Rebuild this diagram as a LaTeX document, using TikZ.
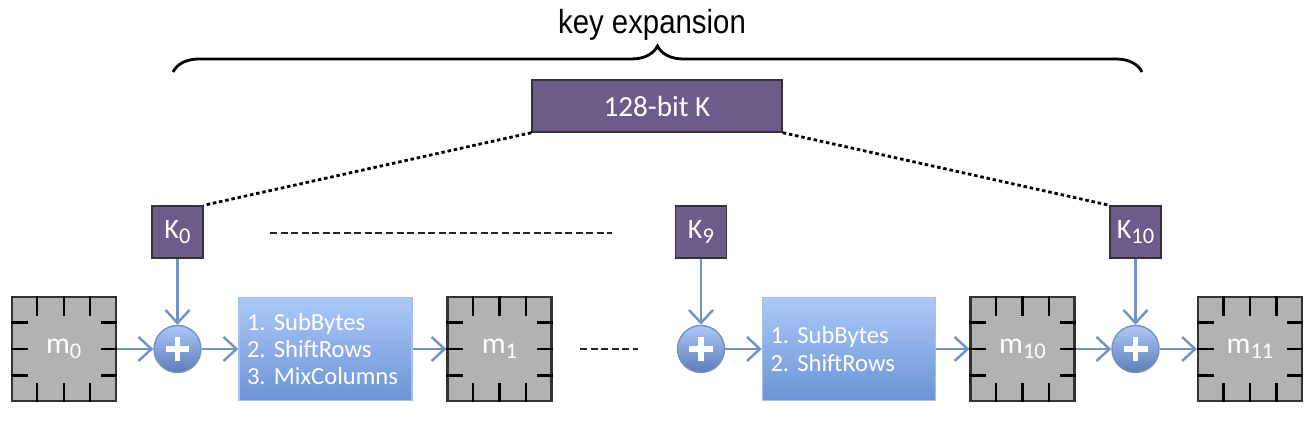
\documentclass[tikz,border=0pt]{standalone}
\usepackage{fontspec}
\setmainfont{Carlito}
\newfontfamily\headfont{Liberation Sans}
\usetikzlibrary{arrows.meta, positioning, calc, decorations.pathreplacing}

\definecolor{keypurple}{RGB}{108,92,140}
\definecolor{flowblue}{RGB}{114,147,196}
\definecolor{boxtop}{RGB}{172,200,248}
\definecolor{boxbot}{RGB}{108,148,214}
\definecolor{stategray}{RGB}{178,178,178}

\newcommand{\idx}[1]{\raisebox{-1.5pt}{\fontsize{6.4}{7}\selectfont #1}}
\newcommand{\steptext}{\fontsize{7}{7.8}\selectfont\frenchspacing\hyphenpenalty=10000\relax}

\begin{document}
\begin{tikzpicture}[
  keybox/.style={draw=black!80, fill=keypurple, text=white, minimum width=0.51cm,
    minimum height=0.52cm, inner sep=0pt, font=\fontsize{8}{9}\selectfont},
  state/.style={draw=black!80, line width=0.6pt, fill=stategray, text=white,
    minimum size=1.04cm, inner sep=0pt, font=\fontsize{8.5}{10}\selectfont},
  roundbox/.style={draw=boxbot!60, top color=boxtop, bottom color=boxbot, text=white,
    text width=1.57cm, inner xsep=0.08cm, minimum height=1.03cm, align=left,
    font=\steptext},
  xorop/.style={circle, draw=flowblue, top color=boxtop, bottom color=boxbot!85!black,
    minimum size=0.47cm, inner sep=0pt},
  flow/.style={-{Straight Barb[length=1.3mm,width=2.4mm]}, flowblue, line width=0.7pt},
  keyline/.style={dash pattern=on 1pt off 0.8pt, line width=0.8pt},
  gap/.style={dash pattern=on 2pt off 1pt, line width=0.8pt, black!85}]

  \useasboundingbox (0,0) rectangle (13.15,-4.22);

  % --- key expansion ---
  \node[font=\headfont\fontsize{9.5}{11}\selectfont] (title) at (6.52,-0.25)
    {\scalebox{0.88}[1]{key expansion}};
  \draw[decorate, decoration={brace, amplitude=0.26cm}, line width=0.8pt]
    (1.73,-0.72) -- (11.42,-0.72);
  \node[keybox, minimum width=2.50cm, font=\fontsize{8.3}{9}\selectfont] (K) at (6.57,-1.06) {128-bit K};

  % --- round keys ---
  \node[keybox] (K0) at (1.775,-2.32) {K\idx{0}};
  \node[keybox] (K9) at (7.01,-2.32) {K\idx{9}};
  \node[keybox] (K10) at (11.355,-2.32) {K\idx{10}};
  \draw[keyline] (K.south west) -- (K0.north east);
  \draw[keyline] (K.south east) -- (K10.north west);
  \draw[gap] (2.70,-2.33) -- (6.12,-2.33);

  % --- rounds ---
  \node[state] (m0) at (0.637,-3.49) {m\idx{0}};
  \node[xorop] (x1) at (1.775,-3.49) {};
  \node[roundbox] (r1) at (3.255,-3.49) {1. SubBytes\\2. ShiftRows\\3. MixColumns};
  \node[state] (m1) at (4.995,-3.49) {m\idx{1}};
  \draw[gap] (5.80,-3.49) -- (6.38,-3.49);
  \node[xorop] (x2) at (7.01,-3.49) {};
  \node[roundbox] (r2) at (8.49,-3.49) {1. SubBytes\\2. ShiftRows};
  \node[state] (m10) at (10.225,-3.49) {m\idx{10}};
  \node[xorop] (x3) at (11.355,-3.49) {};
  \node[state] (m11) at (12.50,-3.49) {m\idx{11}};

  % state grid ticks
  \foreach \s in {m0,m1,m10,m11} {
    \foreach \t in {0.25,0.5,0.75} {
      \draw[line width=0.6pt] ($(\s.north west)!\t!(\s.north east)$) -- ++(0,-0.2);
      \draw[line width=0.6pt] ($(\s.south west)!\t!(\s.south east)$) -- ++(0,0.19);
      \draw[line width=0.6pt] ($(\s.north west)!\t!(\s.south west)$) -- ++(0.17,0);
      \draw[line width=0.6pt] ($(\s.north east)!\t!(\s.south east)$) -- ++(-0.16,0);
    }
  }
  % plus signs
  \foreach \c in {x1,x2,x3}
    \draw[white, line width=1.5pt] ($(\c)+(-0.12,0)$) -- ($(\c)+(0.12,0)$)
      ($(\c)+(0,-0.12)$) -- ($(\c)+(0,0.12)$);

  % --- flow ---
  \draw[flow] (K0) -- (x1);
  \draw[flow] (m0) -- (x1);
  \draw[flow] (x1) -- (r1);
  \draw[flow] (r1) -- (m1);
  \draw[flow] (K9) -- (x2);
  \draw[flow] (x2) -- (r2);
  \draw[flow] (r2) -- (m10);
  \draw[flow] (m10) -- (x3);
  \draw[flow] (K10) -- (x3);
  \draw[flow] (x3) -- (m11);
\end{tikzpicture}
\end{document}
